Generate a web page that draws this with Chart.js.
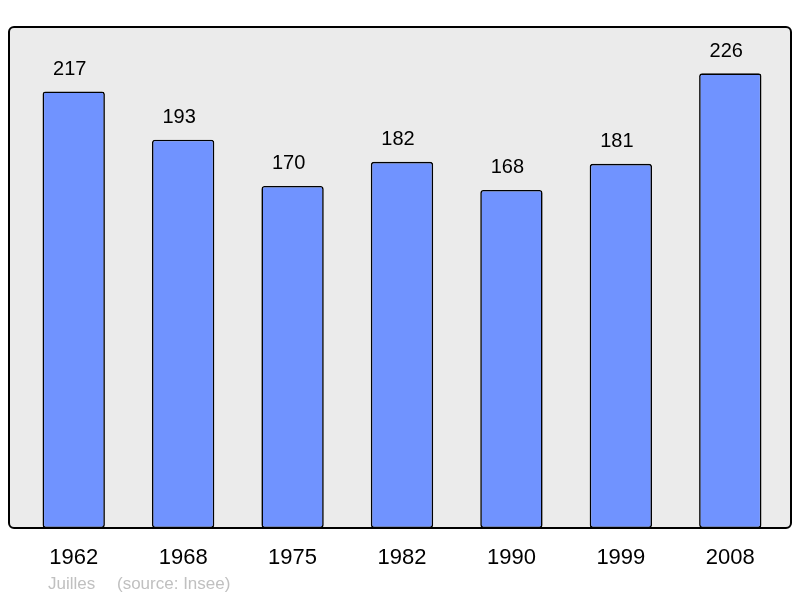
<!DOCTYPE html>
<html>
<head>
<meta charset="utf-8">
<script src="https://cdn.jsdelivr.net/npm/chart.js@4"></script>
<style>
  html, body { margin: 0; padding: 0; background: #fff; }
  #wrap { width: 800px; height: 598px; }
</style>
</head>
<body>
<div id="wrap"><canvas id="graficaPoblacion" width="800" height="598"></canvas></div>
<script>
// datos del gráfico
const annees = ["1962", "1968", "1975", "1982", "1990", "1999", "2008"];
const population = [217, 193, 170, 182, 168, 181, 226];
const pied = ["Juilles", "(source: Insee)"];

// caja del fondo: un poco más ancha que el área de barras
function cajaFondo(a) {
    return { x: a.left - 10, y: a.top, w: a.right - a.left + 16, h: a.bottom - a.top };
}

// fondo gris con borde negro + texto del pie
const fondoPlugin = {
    id: "fondo",
    beforeDraw(chart) {
        const ctx = chart.ctx;
        const c = cajaFondo(chart.chartArea);
        ctx.save();
        ctx.beginPath();
        ctx.roundRect(c.x, c.y, c.w, c.h, 5);
        ctx.fillStyle = "#ebebeb";
        ctx.fill();
        ctx.restore();
    },
    afterDraw(chart) {
        const ctx = chart.ctx;
        const c = cajaFondo(chart.chartArea);
        ctx.save();
        ctx.beginPath();
        ctx.roundRect(c.x, c.y, c.w, c.h, 5);
        ctx.lineWidth = 2;
        ctx.strokeStyle = "#000";
        ctx.stroke();

        ctx.font = "17px 'Liberation Sans', Arial, sans-serif";
        ctx.fillStyle = "#c0c0c0";
        ctx.textBaseline = "middle";
        ctx.fillText(pied[0], 48, 584);
        ctx.fillText(pied[1], 117, 584);
        ctx.restore();
    },
    afterDatasetsDraw(chart) {
        const ctx = chart.ctx;
        const meta = chart.getDatasetMeta(0);
        ctx.save();
        ctx.font = "20px 'Liberation Sans', Arial, sans-serif";
        ctx.fillStyle = "#000";
        ctx.textAlign = "center";
        ctx.textBaseline = "middle";
        meta.data.forEach((barra, i) => {
            ctx.fillText(String(population[i]), barra.x - 4, barra.y - 22);
        });
        ctx.restore();
    }
};

new Chart(document.getElementById("graficaPoblacion"), {
    type: "bar",
    data: {
        labels: annees,
        datasets: [{
            data: population,
            backgroundColor: "#7093ff",
            borderColor: "#000",
            borderWidth: 1.6,
            borderRadius: 3,
            borderSkipped: false,
            barPercentage: 0.57,
            categoryPercentage: 1
        }]
    },
    options: {
        responsive: false,
        animation: false,
        layout: { padding: { left: 19, right: 15, top: 27, bottom: 0 } },
        plugins: {
            legend: { display: false },
            tooltip: { enabled: false }
        },
        scales: {
            x: {
                grid: { display: false, drawTicks: false },
                border: { display: false },
                ticks: {
                    color: "#000",
                    padding: 17,
                    font: { size: 22, family: "'Liberation Sans', Arial, sans-serif" }
                },
                afterFit(scale) { scale.height = 70; }
            },
            y: {
                display: false,
                min: 0,
                max: 249
            }
        }
    },
    plugins: [fondoPlugin]
});
</script>
</body>
</html>
